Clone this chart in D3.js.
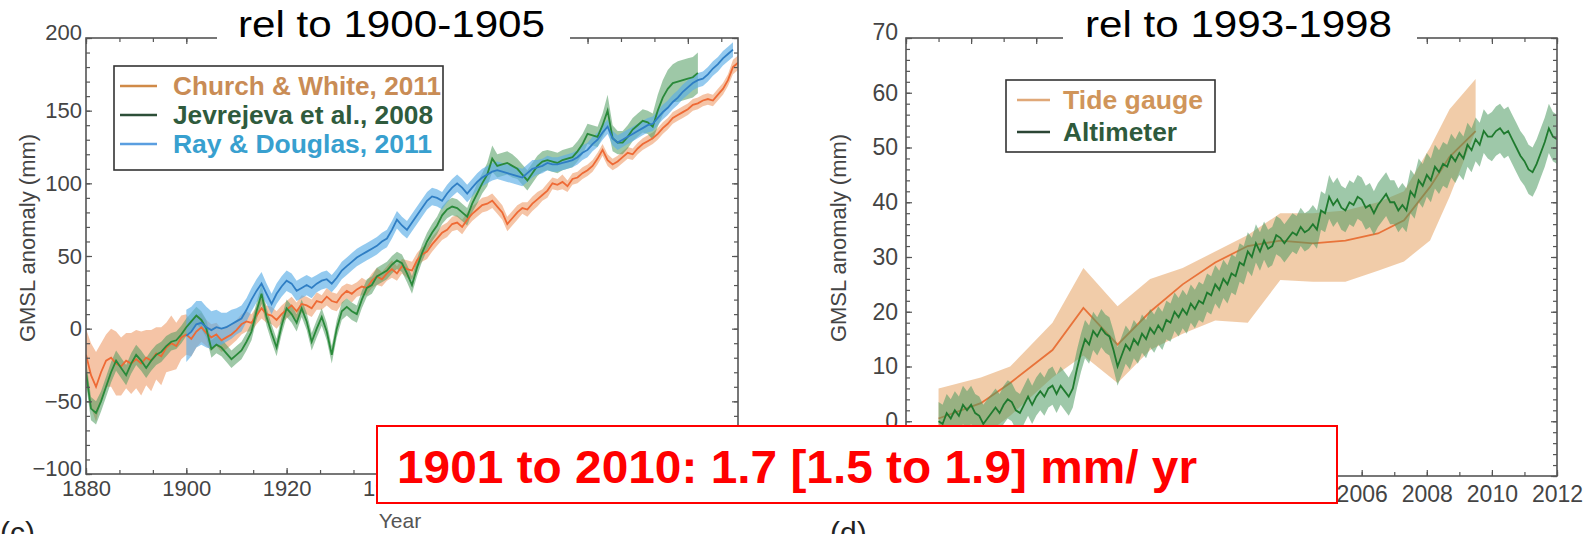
<!DOCTYPE html>
<html><head><meta charset="utf-8">
<script src="https://cdn.jsdelivr.net/npm/d3@7"></script>
<style>body{margin:0;background:#fff;} svg{display:block;font-family:Arial,"Liberation Sans",sans-serif;}</style>
</head><body><svg id="c" width="1593" height="534"></svg>
<script>
// ---------- DATA ----------
// Panel (c): annual GMSL anomaly (mm) relative to 1900-1905
const cwStart = 1880; // Church & White, 2011
const cwValues = [
-18,-32,-40,-30,-22,-20,-24,-26,-22,-24,
-21,-24,-20,-22,-17,-19,-13,-10,-12,-6,
-4,-7,-2,1,-3,-6,-4,-8,-6,-4,
-1,3,5,4,9,14,10,9,6,10,
13,16,12,17,16,14,19,18,22,19,
18,23,26,24,27,29,28,33,36,34,
38,41,38,43,41,40,47,51,53,58,
62,66,68,72,73,70,75,79,82,85,
86,88,84,80,72,76,80,83,82,86,
89,92,95,100,99,101,98,103,104,107,
109,112,117,123,116,113,115,118,121,120,
124,127,129,131,134,138,141,145,147,149,
151,154,155,157,158,157,161,165,171,180,183];
const cwUnc = [
18,22,24,20,18,20,22,20,19,21,
20,22,19,21,18,20,17,19,16,15,
14,12,11,10,9,9,8,8,8,7,
7,7,7,6,6,7,6,6,6,6,
6,6,6,6,6,6,6,5,6,6,
6,6,5,6,5,6,5,5,6,5,
5,6,5,5,6,6,5,5,5,5,
5,5,5,5,5,5,5,5,5,5,
5,5,5,5,5,5,5,4,5,5,
5,4,5,4,4,5,4,4,4,4,
4,4,4,4,4,4,4,4,4,4,
4,4,4,4,4,4,4,4,4,4,
4,4,4,4,4,4,4,4,4,5,5];
const jevStart = 1880; // Jevrejeva et al., 2008
const jevValues = [
-30,-55,-58,-50,-40,-30,-22,-27,-32,-24,
-18,-22,-27,-22,-18,-16,-12,-9,-8,-4,
1,5,9,6,0,-14,-11,-13,-17,-21,
-18,-15,-9,-2,12,24,8,-3,-13,2,
14,10,4,14,5,-9,0,8,-2,-18,
0,12,15,12,10,20,28,30,36,38,
40,44,47,45,38,30,42,52,60,66,
71,78,82,84,83,80,77,86,93,100,
106,117,112,113,114,112,110,106,102,107,
112,115,116,115,114,116,117,118,122,127,
134,133,132,140,150,131,128,128,132,137,
140,143,142,139,150,159,165,169,170,171,
172,173,176];
const jevUnc = [
8,8,8,7,7,7,7,7,7,7,
7,7,7,7,7,7,7,6,6,6,
6,6,6,6,6,6,6,6,6,6,
6,6,6,6,6,7,6,6,6,6,
6,6,6,6,6,6,6,6,6,6,
6,6,6,6,6,6,6,6,6,6,
6,6,6,6,6,6,6,6,6,6,
6,6,6,6,6,6,6,6,7,7,
8,9,8,8,8,8,7,7,7,7,
7,7,7,7,7,7,7,7,7,7,
7,7,7,8,11,9,8,8,8,8,
8,8,8,9,11,12,13,13,14,14,
14,14,14];
const rdStart = 1900; // Ray & Douglas, 2011
const rdValues = [
-5,-2,3,4,1,-1,1,0,1,3,
5,7,13,20,26,31,24,17,24,29,
33,31,26,28,30,28,31,33,34,31,
35,40,43,46,49,51,53,55,57,60,
62,68,75,71,68,73,78,83,88,91,
90,88,93,97,100,97,93,97,101,104,
106,108,109,108,107,106,105,104,107,110,
111,112,114,113,113,114,115,116,118,121,
123,127,130,135,139,131,128,130,132,134,
136,138,140,141,145,149,152,156,159,163,
166,169,171,172,175,179,182,186,189,192];
const rdUnc = [
18,17,16,15,14,13,12,11,10,10,
9,9,8,8,8,8,7,7,7,7,
7,7,7,7,7,7,6,6,6,6,
6,6,6,6,6,6,6,6,6,6,
6,6,6,6,6,6,6,6,6,6,
6,6,6,6,6,6,6,6,6,6,
6,6,6,6,6,6,6,6,6,6,
5,5,5,5,5,5,5,5,5,5,
5,5,5,5,5,5,5,5,5,5,
5,5,5,5,5,5,5,5,5,5,
5,5,5,5,5,5,5,5,5,5];

// Panel (d): relative to 1993-1998
const tgYears  = [1993.0,1994.3,1995.2,1996.5,1997.45,1998.5,1999.5,2000.5,2001.5,2002.5,2003.5,2004.5,2005.5,2006.5,2007.3,2008.1,2008.7,2009.5];
const tgValues = [0.5,3.3,7,13,20.7,14,20,25,29,32,33,32.5,33,34.3,36.7,42.8,48.3,53];
const tgLow    = [-6,-3,1,8,12,7,13,16,18.4,18,25.8,25.5,25.5,27.5,29.2,33,41,53];
const tgHigh   = [6,8,10,18,28,21,26,28,31,34,38,38,38.5,40,42,50,57,62.5];
const altStart = 1993, altStep = 0.125; // altimeter samples, 8 per year
const altValues = [
0,-0.5,1.5,0.5,2,1,3,2,
3,1.5,1,-0.5,0.5,1.5,2.5,1.5,
3,4,3.5,2,1.5,3,4.5,3,
4.5,5.5,4.5,6,6.5,5,6.5,5.5,
4.5,6,9.5,12.5,15,14,16.5,15.5,
17,16,15.5,13,10,12,14,13,
15,14,16,15,17,16,17.5,16.5,
18.5,18,20,19,20.5,19.5,21.5,20.5,
22,21.5,23.5,23,25,24,26,25,
27,26.5,29,28.5,31,30,32.5,31,
33,31.5,32,34,33.5,32.5,33.5,34.5,
34,35.5,34.5,35,36,35,38.5,38,
41,39.5,40.5,39,38.5,40,39.5,41,
40.5,39,39.5,38,39.5,40.5,41.5,40,
40,38.5,39.5,38.5,42,41,44,43,
45,44,46.5,45.5,47,46.5,48.5,47.5,
49,48,50.5,49.5,51.5,50.5,53,52,
52,53,53.5,52.5,53,51.5,50,48.5,
47.5,46,45.5,47,49,51,53.5,52,
51.5];
const altUncByYear = [3.5,3.5,3.5,3.5,3.5,3.5,3.5,3.5,3.5,3.5,3.5,3.5,4,4,4,4,4,4.5,4.5,4.5];

// ticks / labels (labels only where the reference shows them; the rest sit under the red box)
const xTicksL = [1880,1900,1920,1940,1960,1980,2000];
const xLabelsL = [1880,1900,1920,1940];
const yTicksL = [-100,-50,0,50,100,150,200];
const xTicksR = [1992,1994,1996,1998,2000,2002,2004,2006,2008,2010,2012];
const xLabelsR = [2006,2008,2010,2012];
const yTicksR = [-10,0,10,20,30,40,50,60,70];
const yLabelsR = [0,10,20,30,40,50,60,70];
const legendL = ["Church & White, 2011","Jevrejeva et al., 2008","Ray & Douglas, 2011"];
const legendR = ["Tide gauge","Altimeter"];
const titles = ["rel to 1900-1905","rel to 1993-1998"];
const yLabel = "GMSL anomaly (mm)";
const xLabel = "Year";
const rateText = "1901 to 2010: 1.7 [1.5 to 1.9] mm/ yr";

// ---------- DRAW ----------
const svg = d3.select("#c");
svg.append("rect").attr("width",1593).attr("height",534).attr("fill","#fff");

const xL = d3.scaleLinear([1880,2010],[86,738]);
const yL = d3.scaleLinear([-100,200],[474,38]);
const xR = d3.scaleLinear([1992,2012],[906,1557]);
const yR = d3.scaleLinear([-10,70],[476,38]);

function series(start, vals, unc){ return vals.map((v,i)=>({year:start+i, v, lo:v-unc[i], hi:v+unc[i]})); }
const cw = series(cwStart, cwValues, cwUnc);
const jev = series(jevStart, jevValues, jevUnc);
const rd = series(rdStart, rdValues, rdUnc);
const tg = tgYears.map((y,i)=>({year:y, v:tgValues[i], lo:tgLow[i], hi:tgHigh[i]}));
const alt = altValues.map((v,i)=>{const yr=altStart+i*altStep; const u=altUncByYear[Math.min(altUncByYear.length-1,Math.floor(yr)-altStart)]; return {year:yr, v, lo:v-u, hi:v+u};});

const defs = svg.append("defs");
defs.append("clipPath").attr("id","clipL").append("rect").attr("x",86).attr("y",38).attr("width",652).attr("height",436);
defs.append("clipPath").attr("id","clipR").append("rect").attr("x",906).attr("y",38).attr("width",651).attr("height",438);

function band(x,y){ return d3.area().x(d=>x(d.year)).y0(d=>y(d.lo)).y1(d=>y(d.hi)); }
function line(x,y){ return d3.line().x(d=>x(d.year)).y(d=>y(d.v)); }

// left panel data
const gL = svg.append("g").attr("clip-path","url(#clipL)");
gL.append("path").datum(cw).attr("d",band(xL,yL)).attr("fill","#f2b088").attr("fill-opacity",0.75);
gL.append("path").datum(jev).attr("d",band(xL,yL)).attr("fill","#4e9a5e").attr("fill-opacity",0.55);
gL.append("path").datum(rd).attr("d",band(xL,yL)).attr("fill","#5aaee6").attr("fill-opacity",0.65);
gL.append("path").datum(cw).attr("d",line(xL,yL)).attr("fill","none").attr("stroke","#ee6a35").attr("stroke-width",1.8);
gL.append("path").datum(jev).attr("d",line(xL,yL)).attr("fill","none").attr("stroke","#2a8a3a").attr("stroke-width",1.8);
gL.append("path").datum(rd).attr("d",line(xL,yL)).attr("fill","none").attr("stroke","#2f7ec4").attr("stroke-width",1.8);

// right panel data
const gR = svg.append("g").attr("clip-path","url(#clipR)");
gR.append("path").datum(tg).attr("d",band(xR,yR)).attr("fill","#f0c6a0").attr("fill-opacity",0.9);
gR.append("path").datum(tg).attr("d",line(xR,yR)).attr("fill","none").attr("stroke","#e8733a").attr("stroke-width",1.8);
gR.append("path").datum(alt).attr("d",band(xR,yR)).attr("fill","#4f9a62").attr("fill-opacity",0.55);
gR.append("path").datum(alt).attr("d",line(xR,yR)).attr("fill","none").attr("stroke","#1f7a2e").attr("stroke-width",1.8);

// axes
function styleAxis(g, fs){
  g.select(".domain").remove();
  g.selectAll(".tick line").attr("stroke","#555").attr("stroke-width",1.2);
  g.selectAll(".tick text").attr("fill","#444").style("font-size",fs+"px").style("font-family","Arial,'Liberation Sans',sans-serif");
}
function panelAxes(x,y,xMaj,xLab,xMin,yMaj,yLab,yMin,x0,x1,y0,y1,xPad,yPad,fs){
  const g = svg.append("g");
  const fmt = d3.format("d");
  // tick marks (inward)
  styleAxis(g.append("g").attr("transform",`translate(0,${y0})`).call(d3.axisBottom(x).tickValues(xMaj).tickFormat("").tickSizeInner(-6).tickSizeOuter(0)), fs);
  styleAxis(g.append("g").attr("transform",`translate(0,${y0})`).call(d3.axisBottom(x).tickValues(xMin).tickFormat("").tickSizeInner(-4).tickSizeOuter(0)), fs);
  styleAxis(g.append("g").attr("transform",`translate(0,${y1})`).call(d3.axisTop(x).tickValues(xMaj).tickFormat("").tickSizeInner(-6).tickSizeOuter(0)), fs);
  styleAxis(g.append("g").attr("transform",`translate(0,${y1})`).call(d3.axisTop(x).tickValues(xMin).tickFormat("").tickSizeInner(-4).tickSizeOuter(0)), fs);
  styleAxis(g.append("g").attr("transform",`translate(${x0},0)`).call(d3.axisLeft(y).tickValues(yMaj).tickFormat("").tickSizeInner(-6).tickSizeOuter(0)), fs);
  styleAxis(g.append("g").attr("transform",`translate(${x0},0)`).call(d3.axisLeft(y).tickValues(yMin).tickFormat("").tickSizeInner(-4).tickSizeOuter(0)), fs);
  styleAxis(g.append("g").attr("transform",`translate(${x1},0)`).call(d3.axisRight(y).tickValues(yMaj).tickFormat("").tickSizeInner(-6).tickSizeOuter(0)), fs);
  styleAxis(g.append("g").attr("transform",`translate(${x1},0)`).call(d3.axisRight(y).tickValues(yMin).tickFormat("").tickSizeInner(-4).tickSizeOuter(0)), fs);
  // labels
  styleAxis(g.append("g").attr("transform",`translate(0,${y0})`).call(d3.axisBottom(x).tickValues(xLab).tickFormat(fmt).tickSize(0).tickPadding(xPad)), fs);
  const ya = g.append("g").attr("transform",`translate(${x0},0)`).call(d3.axisLeft(y).tickValues(yLab).tickFormat(fmt).tickSize(0).tickPadding(yPad));
  styleAxis(ya, fs);
  // end labels sit slightly above their ticks, as in the reference
  const dom = y.domain();
  ya.selectAll(".tick text").filter(d=>d===dom[0]||d===dom[1]).attr("y",-6);
  g.append("rect").attr("x",x0).attr("y",y1).attr("width",x1-x0).attr("height",y0-y1).attr("fill","none").attr("stroke","#555").attr("stroke-width",1.6);
}
panelAxes(xL,yL,xTicksL,xLabelsL,d3.range(1880,2010.01,20/3),yTicksL,yTicksL,d3.range(-100,201,10),86,738,474,38,6,4,22);
panelAxes(xR,yR,xTicksR,xLabelsR,d3.range(1992,2012.01,1),yTicksR,yLabelsR,d3.range(-10,70.01,2),906,1557,476,38,10,8,23);

// axis titles
svg.append("text").attr("transform","translate(35,238) rotate(-90)").attr("text-anchor","middle").attr("fill","#444").style("font-size","22px").text(yLabel);
svg.append("text").attr("transform","translate(846,238) rotate(-90)").attr("text-anchor","middle").attr("fill","#444").style("font-size","22px").text(yLabel);
svg.append("text").attr("x",400).attr("y",528).attr("text-anchor","middle").attr("fill","#555").style("font-size","21px").text(xLabel);
svg.append("text").attr("x",0).attr("y",543).attr("fill","#222").style("font-size","30px").text("(c)");
svg.append("text").attr("x",830).attr("y",543).attr("fill","#222").style("font-size","30px").text("(d)");

// titles with white boxes
const titleBoxes = [{x:217,w:353,tx:238},{x:1063,w:354,tx:1085}];
titleBoxes.forEach((b,i)=>{
  svg.append("rect").attr("x",b.x).attr("y",0).attr("width",b.w).attr("height",47).attr("fill","#fff");
  svg.append("text").attr("x",b.tx).attr("y",37).attr("fill","#000").style("font-size","36px")
    .attr("textLength",307).attr("lengthAdjust","spacingAndGlyphs").text(titles[i]);
});

// legends
const legL = svg.append("g");
legL.append("rect").attr("x",114).attr("y",66).attr("width",329).attr("height",104).attr("fill","#fff").attr("stroke","#333").attr("stroke-width",1.6);
const legLColors = [{line:"#d08a48",text:"#c98c55"},{line:"#2d4f38",text:"#2f5b3d"},{line:"#5a9ee0",text:"#38a0cf"}];
const legLWidths = [268,260,259];
legendL.forEach((t,i)=>{
  const cy = 86 + i*29;
  legL.append("line").attr("x1",120).attr("x2",157).attr("y1",cy).attr("y2",cy).attr("stroke",legLColors[i].line).attr("stroke-width",2.5);
  legL.append("text").attr("x",173).attr("y",cy+9).attr("fill",legLColors[i].text).style("font-size","26px").style("font-weight","bold")
    .attr("textLength",legLWidths[i]).attr("lengthAdjust","spacingAndGlyphs").text(t);
});
const legR = svg.append("g");
legR.append("rect").attr("x",1006).attr("y",80).attr("width",209).attr("height",72).attr("fill","#fff").attr("stroke","#333").attr("stroke-width",1.6);
const legRColors = [{line:"#e0a878",text:"#d0955a"},{line:"#2b4534",text:"#2e5a3c"}];
const legRWidths = [140,114];
legendR.forEach((t,i)=>{
  const cy = 100 + i*32;
  legR.append("line").attr("x1",1017).attr("x2",1050).attr("y1",cy).attr("y2",cy).attr("stroke",legRColors[i].line).attr("stroke-width",2.5);
  legR.append("text").attr("x",1063).attr("y",cy+9).attr("fill",legRColors[i].text).style("font-size","25px").style("font-weight","bold")
    .attr("textLength",legRWidths[i]).attr("lengthAdjust","spacingAndGlyphs").text(t);
});

// red annotation box
svg.append("rect").attr("x",377).attr("y",426).attr("width",960).attr("height",77).attr("fill","#fff").attr("stroke","#ff0000").attr("stroke-width",2);
svg.append("text").attr("x",397).attr("y",483).attr("fill","#ff0000").style("font-size","47px").style("font-weight","bold")
  .attr("textLength",800).attr("lengthAdjust","spacingAndGlyphs").text(rateText);
</script></body></html>
